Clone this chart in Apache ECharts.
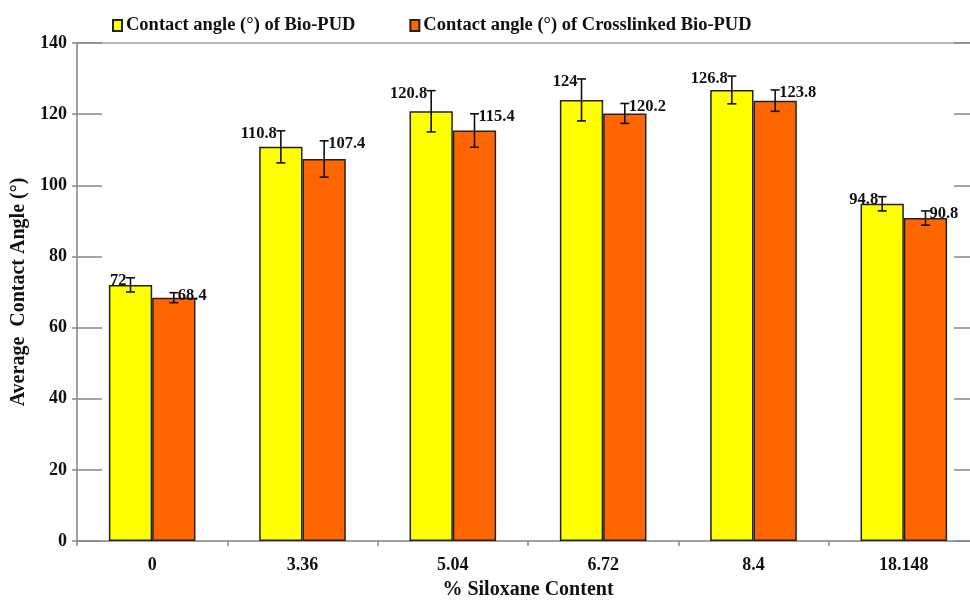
<!DOCTYPE html>
<html>
<head>
<meta charset="utf-8">
<script src="https://cdn.jsdelivr.net/npm/echarts@6/dist/echarts.min.js"></script>
<style>
  html, body { margin: 0; padding: 0; background: #fff; }
  #main { width: 970px; height: 602px; }
</style>
</head>
<body>
<div id="main"></div>
<script>
var categories = ['0', '3.36', '5.04', '6.72', '8.4', '18.148'];
var bioPud = [72, 110.8, 120.8, 124, 126.8, 94.8];
var bioPudErr = [2, 4.5, 5.8, 5.9, 3.9, 2];
var crossPud = [68.4, 107.4, 115.4, 120.2, 123.8, 90.8];
var crossPudErr = [1.4, 5.1, 4.7, 2.8, 3, 2];

var FONT = '"Liberation Serif", "Times New Roman", serif';
var GAP = 0.424; // category gap share

function errData(vals, errs) {
    var out = [];
    for (var i = 0; i < vals.length; i++) out.push([i, vals[i], errs[i]]);
    return out;
}

// error bar + value label, side -1 = left bar, 1 = right bar
function errRender(side) {
    return function (params, api) {
        var cat = api.value(0), v = api.value(1), e = api.value(2);
        var catW = api.size([1, 0])[0];
        var barW = catW * (1 - GAP) / 2;
        var x = api.coord([cat, 0])[0] + side * barW / 2;
        var top = api.coord([cat, v + e])[1];
        var bot = api.coord([cat, v - e])[1];
        var cap = 4.5;
        var st = { stroke: '#111', lineWidth: 1.6 };
        return {
            type: 'group',
            children: [
                { type: 'line', shape: { x1: x, y1: top, x2: x, y2: bot }, style: st },
                { type: 'line', shape: { x1: x - cap, y1: top, x2: x + cap, y2: top }, style: st },
                { type: 'line', shape: { x1: x - cap, y1: bot, x2: x + cap, y2: bot }, style: st },
                {
                    type: 'text',
                    x: x + side * 4,
                    y: top + 3,
                    style: {
                        text: String(v),
                        fill: '#111',
                        font: 'bold 16.5px ' + FONT,
                        align: side < 0 ? 'right' : 'left',
                        verticalAlign: 'middle'
                    }
                }
            ]
        };
    };
}

var myChart = echarts.init(document.getElementById('main'));
var axisGray = '#a0a0a0';
var yBase = { type: 'value', min: 0, max: 140, interval: 20 };

var option = {
    backgroundColor: '#fff',
    animation: false,
    textStyle: { fontFamily: FONT },
    legend: {
        left: 112,
        top: 16,
        padding: 0,
        itemWidth: 9,
        itemHeight: 11,
        itemGap: 54,
        icon: 'rect',
        textStyle: { fontFamily: FONT, fontWeight: 'bold', fontSize: 18.5, color: '#111', padding: [0, 0, 0, -1] },
        data: ['Contact angle (°) of Bio-PUD', 'Contact angle (°) of Crosslinked Bio-PUD']
    },
    grid: {
        left: 77,
        top: 43,
        width: 902,
        height: 498,
        outerBoundsMode: 'none',
        show: true,
        borderColor: axisGray,
        borderWidth: 1.5
    },
    xAxis: {
        type: 'category',
        data: categories,
        name: '% Siloxane Content',
        nameLocation: 'middle',
        nameGap: 39,
        nameTextStyle: { fontFamily: FONT, fontWeight: 'bold', fontSize: 20, color: '#111' },
        axisLine: { lineStyle: { color: axisGray, width: 2 } },
        axisTick: { show: true, length: 5, interval: 0, lineStyle: { color: '#888', width: 1.5 } },
        axisLabel: { margin: 15, fontFamily: FONT, fontWeight: 'bold', fontSize: 18, color: '#111' },
        splitLine: { show: false }
    },
    yAxis: [
        Object.assign({}, yBase, {
            position: 'left',
            name: 'Average  Contact Angle (°)',
            nameLocation: 'middle',
            nameGap: 46,
            nameTextStyle: { fontFamily: FONT, fontWeight: 'bold', fontSize: 20, color: '#111' },
            axisLine: { show: true, lineStyle: { color: axisGray, width: 2 } },
            axisTick: { show: true, length: 5, lineStyle: { color: '#888', width: 1.5 } },
            axisLabel: { margin: 10, fontFamily: FONT, fontWeight: 'bold', fontSize: 18, color: '#111' },
            splitLine: { show: false }
        }),
        Object.assign({}, yBase, {
            position: 'left',
            axisLine: { show: false },
            axisTick: { show: true, inside: true, length: 25, lineStyle: { color: '#888', width: 1.5 } },
            axisLabel: { show: false },
            splitLine: { show: false }
        }),
        Object.assign({}, yBase, {
            position: 'right',
            axisLine: { show: true, lineStyle: { color: axisGray, width: 2 } },
            axisTick: { show: true, inside: true, length: 25, lineStyle: { color: '#888', width: 1.5 } },
            axisLabel: { show: false },
            splitLine: { show: false }
        })
    ],
    series: [
        {
            name: 'Contact angle (°) of Bio-PUD',
            type: 'bar',
            data: bioPud,
            barGap: '0%',
            barCategoryGap: (GAP * 100) + '%',
            itemStyle: { color: '#ffff00', borderColor: '#222', borderWidth: 1.5 }
        },
        {
            name: 'Contact angle (°) of Crosslinked Bio-PUD',
            type: 'bar',
            data: crossPud,
            barGap: '0%',
            barCategoryGap: (GAP * 100) + '%',
            itemStyle: { color: '#ff6600', borderColor: '#222', borderWidth: 1.5 }
        },
        {
            type: 'custom',
            renderItem: errRender(-1),
            data: errData(bioPud, bioPudErr),
            z: 5,
            silent: true
        },
        {
            type: 'custom',
            renderItem: errRender(1),
            data: errData(crossPud, crossPudErr),
            z: 5,
            silent: true
        }
    ]
};
myChart.setOption(option);
</script>
</body>
</html>
